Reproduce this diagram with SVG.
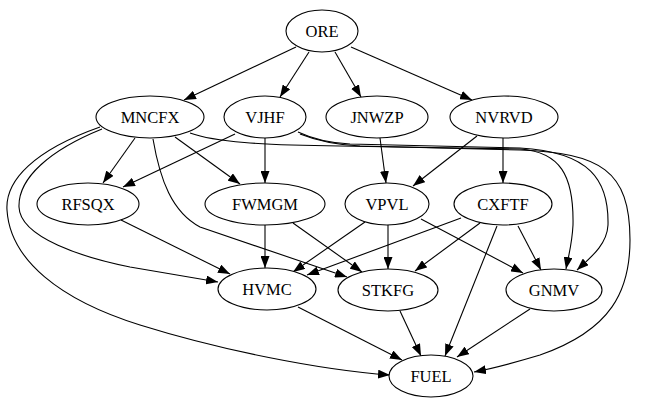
<svg xmlns="http://www.w3.org/2000/svg" width="654" height="410" viewBox="0 0 654 410">
<defs>
<marker id="ah" viewBox="0 0 12 9" refX="12" refY="4.5" markerWidth="12" markerHeight="9" markerUnits="userSpaceOnUse" orient="auto">
<path d="M0,0 L12,4.5 L0,9 z" fill="#000"/>
</marker>
<style>
.n ellipse{fill:#fff;stroke:#000;stroke-width:1.1}
.n text{font-family:"Liberation Serif","Times New Roman",serif;font-size:16.5px;text-anchor:middle;fill:#000}
#edges path{fill:none;stroke:#000;stroke-width:1.1;marker-end:url(#ah)}
</style>
</defs>
<rect width="654" height="410" fill="#fff"/>
<g id="edges">
<path d="M296,47 L184,100"/>
<path d="M309,52 L280,97"/>
<path d="M335,52 L361,97"/>
<path d="M351,47 L472,100"/>
<path d="M135,138 L103,183"/>
<path d="M235,134 L123,187"/>
<path d="M175,137 L240,184"/>
<path d="M265,138 L265,183"/>
<path d="M380,138 L386,183"/>
<path d="M477,136 L413,186"/>
<path d="M503,138 L503,183"/>
<path d="M121,220 L230,274"/>
<path d="M265,225 L265,268"/>
<path d="M293,223 L362,272"/>
<path d="M365,222 L293,272"/>
<path d="M388,225 L388,269"/>
<path d="M421,219 L523,273"/>
<path d="M461,218 L307,275"/>
<path d="M480,223 L415,271"/>
<path d="M497,226 L445,356"/>
<path d="M518,226 L541,270"/>
<path d="M298,307 L402,360"/>
<path d="M400,311 L421,356"/>
<path d="M530,309 L457,357"/>
<path d="M153,139 C160,180 172,212 200,227 L347,277"/>
<path d="M102,129 C50,150 18,178 19,207 C20,238 85,258 130,267 C165,273 195,278 218,282"/>
<path d="M100,127 C35,150 5,180 7,210 C10,260 60,300 140,325 C220,350 320,370 390,375"/>
<path d="M190,133 C215,142 260,145 340,146 L520,149 C560,152 574,175 573,225 C572,245 568,258 566,269"/>
<path d="M298,132 C315,140 330,143 350,144 L520,148 C590,152 609,180 608,225 C607,245 590,258 577,270"/>
<path d="M300,134 C320,142 340,145 360,146 L520,150 C600,153 630,170 630,240 C630,290 612,330 540,355 C510,364 490,369 474,372"/>
</g>
<g id="ORE" class="n"><ellipse cx="322" cy="31" rx="36" ry="21"/><text x="322" y="37">ORE</text></g>
<g id="MNCFX" class="n"><ellipse cx="150" cy="117" rx="54" ry="21"/><text x="150" y="123">MNCFX</text></g>
<g id="VJHF" class="n"><ellipse cx="265" cy="117" rx="41" ry="21"/><text x="265" y="123">VJHF</text></g>
<g id="JNWZP" class="n"><ellipse cx="377" cy="117" rx="51" ry="21"/><text x="377" y="123">JNWZP</text></g>
<g id="NVRVD" class="n"><ellipse cx="504" cy="117" rx="54" ry="21"/><text x="504" y="123">NVRVD</text></g>
<g id="RFSQX" class="n"><ellipse cx="88" cy="204" rx="51" ry="21"/><text x="88" y="210">RFSQX</text></g>
<g id="FWMGM" class="n"><ellipse cx="265" cy="204" rx="60" ry="21"/><text x="265" y="210">FWMGM</text></g>
<g id="VPVL" class="n"><ellipse cx="387" cy="204" rx="42" ry="21"/><text x="387" y="210">VPVL</text></g>
<g id="CXFTF" class="n"><ellipse cx="503" cy="204" rx="49" ry="21"/><text x="503" y="210">CXFTF</text></g>
<g id="HVMC" class="n"><ellipse cx="267" cy="289" rx="49" ry="21"/><text x="267" y="295">HVMC</text></g>
<g id="STKFG" class="n"><ellipse cx="388" cy="290" rx="50" ry="21"/><text x="388" y="296">STKFG</text></g>
<g id="GNMV" class="n"><ellipse cx="554" cy="290" rx="48" ry="21"/><text x="554" y="296">GNMV</text></g>
<g id="FUEL" class="n"><ellipse cx="431" cy="376" rx="42" ry="21"/><text x="431" y="382">FUEL</text></g>
</svg>
